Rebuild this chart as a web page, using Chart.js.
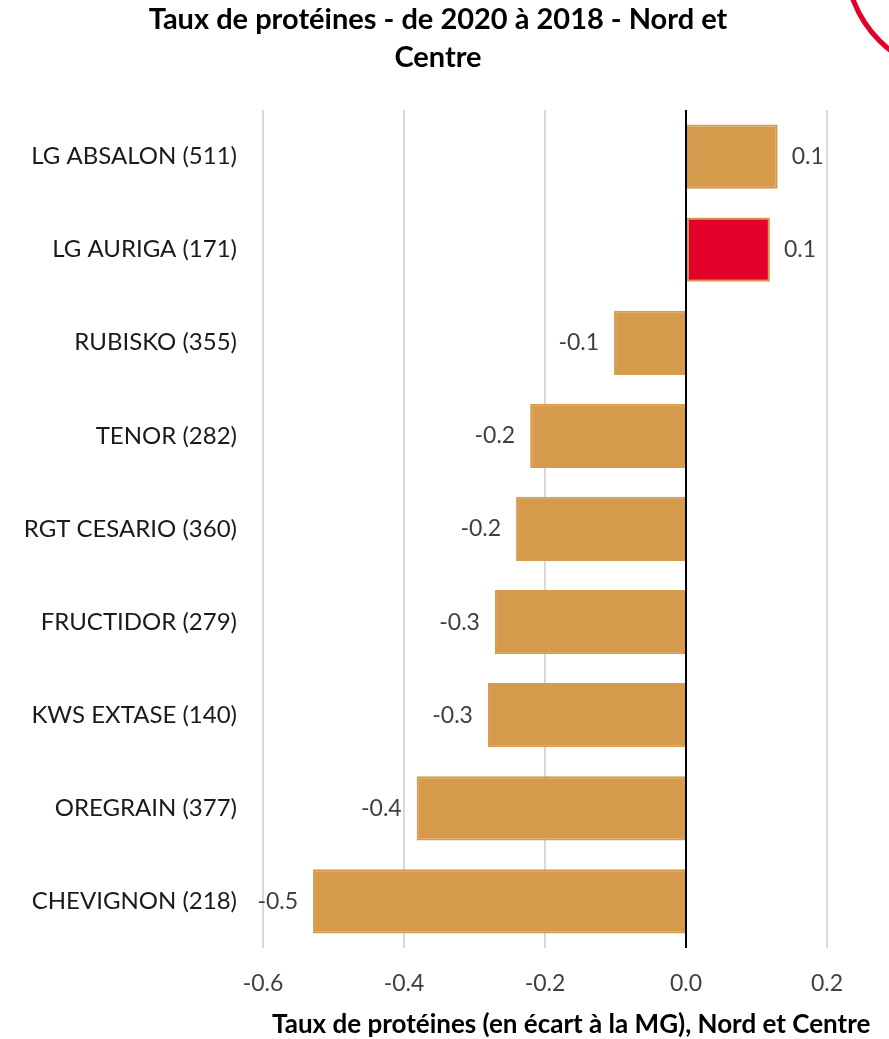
<!DOCTYPE html>
<html>
<head>
<meta charset="utf-8">
<script src="https://cdn.jsdelivr.net/npm/chart.js@4"></script>
<style>
  body { margin: 0; background: #fff; overflow: hidden; }
</style>
</head>
<body>
<canvas id="protChart" width="889" height="1039"></canvas>
<script>
// data
const varieties = ['LG ABSALON (511)', 'LG AURIGA (171)', 'RUBISKO (355)', 'TENOR (282)',
  'RGT CESARIO (360)', 'FRUCTIDOR (279)', 'KWS EXTASE (140)', 'OREGRAIN (377)', 'CHEVIGNON (218)'];
const ecartMG = [0.130, 0.119, -0.102, -0.221, -0.241, -0.271, -0.281, -0.382, -0.529];
const highlighted = ['LG AURIGA (171)'];
const xTicks = [-0.6, -0.4, -0.2, 0.0, 0.2];
const xTitle = 'Taux de protéines (en écart à la MG), Nord et Centre';

const ORANGE = '#D69A4C';
const RED = '#E3002B';
const FONT = 'Lato, "Open Sans", sans-serif';

// value labels next to bar ends
const valueLabels = {
  id: 'valueLabels',
  afterDatasetsDraw(chart) {
    const ctx = chart.ctx;
    const meta = chart.getDatasetMeta(0);
    ctx.save();
    ctx.font = '23px ' + FONT;
    ctx.fillStyle = '#404040';
    ctx.textBaseline = 'middle';
    meta.data.forEach((bar, i) => {
      const v = ecartMG[i];
      const txt = v.toFixed(1);
      if (v >= 0) {
        ctx.textAlign = 'left';
        ctx.fillText(txt, bar.x + 14, bar.y);
      } else {
        ctx.textAlign = 'right';
        ctx.fillText(txt, bar.x - 15, bar.y);
      }
    });
    ctx.restore();
  }
};

// x axis title, left-aligned and allowed to run off the right edge like the original
const axisTitle = {
  id: 'axisTitle',
  afterDraw(chart) {
    const ctx = chart.ctx;
    const xs = chart.scales.x;
    ctx.save();
    ctx.font = 'bold 26px ' + FONT;
    ctx.fillStyle = '#000';
    ctx.textAlign = 'left';
    ctx.textBaseline = 'middle';
    ctx.fillText(xTitle, xs.left + 9, xs.bottom - 14);
    ctx.restore();
  }
};

// bit of the red round logo showing in the corner
const cornerArc = {
  id: 'cornerArc',
  afterDraw(chart) {
    const ctx = chart.ctx;
    ctx.save();
    ctx.strokeStyle = RED;
    ctx.lineWidth = 5;
    ctx.beginPath();
    ctx.arc(960, -40, 114, 0, Math.PI * 2);
    ctx.stroke();
    ctx.restore();
  }
};

new Chart(document.getElementById('protChart'), {
  type: 'bar',
  data: {
    labels: varieties,
    datasets: [{
      data: ecartMG,
      backgroundColor: varieties.map(v => highlighted.includes(v) ? RED : ORANGE),
      borderColor: ORANGE,
      borderWidth: 2,
      borderSkipped: false,
      categoryPercentage: 1,
      barPercentage: 0.69
    }]
  },
  options: {
    indexAxis: 'y',
    responsive: false,
    animation: false,
    layout: { padding: { left: 0, right: 13, top: 0, bottom: 0 } },
    plugins: {
      legend: { display: false },
      tooltip: { enabled: false },
      title: {
        display: true,
        text: ['Taux de protéines - de 2020 à 2018 - Nord et', 'Centre'],
        color: '#000',
        font: { family: FONT, size: 29, weight: 'bold', lineHeight: 1.31 },
        padding: { top: 1, bottom: 33 }
      }
    },
    scales: {
      x: {
        min: -0.6,
        max: 0.2,
        afterBuildTicks(axis) { axis.ticks = xTicks.map(v => ({ value: v })); },
        afterFit(axis) { axis.height = 91; },
        ticks: {
          padding: 22,
          color: '#404040',
          font: { family: FONT, size: 23 },
          callback: v => Number(v).toFixed(1)
        },
        grid: {
          drawTicks: false,
          color: ctx => ctx.tick && ctx.tick.value === 0 ? '#000' : '#D9D9D9',
          lineWidth: 2
        },
        border: { display: false }
      },
      y: {
        afterFit(axis) { axis.width = 263; },
        ticks: {
          padding: 18,
          color: '#1a1a1a',
          font: { family: FONT, size: 24 }
        },
        grid: { display: false },
        border: { display: false }
      },
      // empty right-hand axis, only keeps room at the right of the plot
      yRight: {
        position: 'right',
        afterFit(axis) { axis.width = 49; },
        ticks: { display: false },
        grid: { display: false },
        border: { display: false }
      }
    }
  },
  plugins: [valueLabels, axisTitle, cornerArc]
});
</script>
</body>
</html>
